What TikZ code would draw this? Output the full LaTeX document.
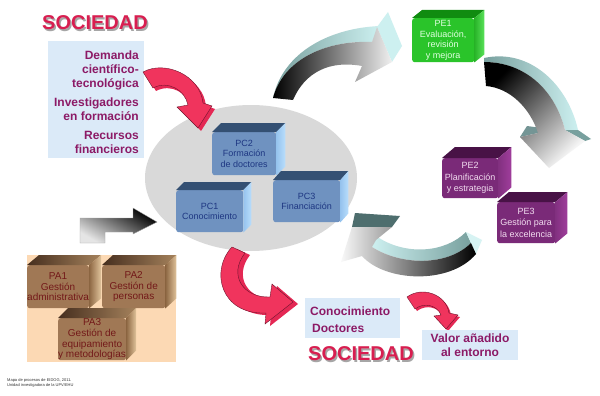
\documentclass[tikz,border=0pt]{standalone}
\usepackage{fontspec}
\setmainfont{Liberation Sans}
\usetikzlibrary{shapes.geometric,calc}
\definecolor{socred}{RGB}{216,30,80}
\definecolor{purtxt}{RGB}{140,26,102}
\definecolor{lblue}{RGB}{219,234,248}
\definecolor{coregray}{RGB}{217,217,217}
\definecolor{pinkA}{RGB}{240,52,93}
\definecolor{pinkB}{RGB}{228,40,84}
\definecolor{pinkD}{RGB}{110,20,45}
\definecolor{peach}{RGB}{252,217,180}
\definecolor{pcfront}{RGB}{111,146,192}
\definecolor{pctopc}{RGB}{52,80,115}
\definecolor{pcsideA}{RGB}{150,195,238}
\definecolor{pcsideB}{RGB}{185,222,252}
\definecolor{pctext}{RGB}{30,55,130}
\definecolor{pgfront}{RGB}{42,196,42}
\definecolor{pgtopc}{RGB}{16,140,16}
\definecolor{pgsideA}{RGB}{40,180,40}
\definecolor{pgsideB}{RGB}{90,226,90}
\definecolor{pgtext}{RGB}{225,255,225}
\definecolor{pefront}{RGB}{122,42,120}
\definecolor{petopc}{RGB}{72,18,70}
\definecolor{pesideA}{RGB}{130,48,128}
\definecolor{pesideB}{RGB}{160,62,156}
\definecolor{petext}{RGB}{242,220,240}
\definecolor{pafront}{RGB}{160,120,85}
\definecolor{patopA}{RGB}{70,46,30}
\definecolor{patopB}{RGB}{165,130,92}
\definecolor{pasideA}{RGB}{140,102,66}
\definecolor{pasideB}{RGB}{225,196,156}
\definecolor{patext}{RGB}{115,25,25}
\definecolor{bandA}{RGB}{120,160,158}
\definecolor{bandB}{RGB}{205,240,240}
\definecolor{slate}{RGB}{78,110,110}
\tikzset{
  pcbox/.style={fill=pcfront,text=pctext,font=\fontsize{9}{10.5}\selectfont},
  pctop/.style={fill=pctopc},
  pcside/.style={left color=pcsideA,right color=pcsideB},
  pgbox/.style={fill=pgfront,text=pgtext,font=\fontsize{9}{10.5}\selectfont},
  pgtop/.style={fill=pgtopc},
  pgside/.style={left color=pgsideA,right color=pgsideB},
  pebox/.style={fill=pefront,text=petext,font=\fontsize{9}{11.5}\selectfont},
  petop/.style={fill=petopc},
  peside/.style={left color=pesideA,right color=pesideB},
  pabox/.style={fill=pafront,text=patext,font=\fontsize{10}{10.8}\selectfont},
  patop/.style={left color=patopA,right color=patopB},
  paside/.style={left color=pasideA,right color=pasideB},
  bluebox/.style={fill=lblue,inner sep=0pt,anchor=north west},
  purtext/.style={text=purtxt,font=\bfseries\fontsize{12}{14}\selectfont,inner sep=0pt},
  soc/.style={font=\bfseries\fontsize{20}{22}\selectfont,inner sep=0pt},
  pinkarrow/.style={fill=pinkA,draw=pinkD,line width=0.4pt},
  pinkshadow/.style={fill=pinkB},
}
\newcommand{\procbox}[9]{%
  \node[anchor=north west,minimum width=#4pt,minimum height=#5pt,inner sep=0pt,
        align=center,rounded corners=2.5pt,#8box] (#1) at (#2,#3) {#9};
  \path[#8top] (#1.north west) -- ++(#6,-#7) -- ($(#1.north east)+(#6,-#7)$) -- (#1.north east) -- cycle;
  \path[#8side] (#1.north east) -- ++(#6,-#7) -- ($(#1.south east)+(#6,-#7)$) -- (#1.south east) -- cycle;
}
\begin{document}
\begin{tikzpicture}[x=1pt,y=-1pt]
\useasboundingbox[fill=white] (0,0) rectangle (600,396);

% SOCIEDAD top
\node[soc,text=black!35] (soctopsh) at (96.5,24.5) {SOCIEDAD};
\node[soc,text=socred] (soctop) at (95,23) {SOCIEDAD};

% input box
\node[bluebox,minimum width=96pt,minimum height=117pt] (inbox) at (48,41) {};
\node[purtext,anchor=north east,align=right] (dem) at (139,51) {Demanda\\científico-\\tecnológica};
\node[purtext,anchor=north east,align=right] (inv) at (139,98) {Investigadores\\en formación};
\node[purtext,anchor=north east,align=right] (rec) at (139,131) {Recursos\\financieros};

% core ellipse
\node[ellipse,fill=coregray,minimum width=212pt,minimum height=146pt,inner sep=0pt] (core) at (251,178) {};

% key processes
\procbox{pc2}{212}{132}{64}{43}{9}{9}{pc}{PC2\\Formación\\de doctores}
\procbox{pc1}{176}{190}{67}{42}{8}{8}{pc}{PC1\\Conocimiento}
\procbox{pc3}{273}{180}{67}{42}{8}{9}{pc}{PC3\\Financiación}

% strategic processes
\procbox{pe1}{412}{18}{62}{44}{10}{8}{pg}{PE1\\Evaluación,\\revisión\\y mejora}
\procbox{pe2}{442}{158}{56}{40}{13}{11}{pe}{PE2\\Planificación\\y estrategia}
\procbox{pe3}{497}{202}{58}{41}{12}{10}{pe}{PE3\\Gestión para\\la excelencia}

% support processes
\node[fill=peach,anchor=north west,minimum width=149pt,minimum height=107pt,inner sep=0pt] (apoyo) at (27,255) {};
\procbox{pa1}{27}{265}{61}{43}{12}{10}{pa}{PA1\\Gestión\\administrativa}
\procbox{pa2}{102}{265}{63}{43}{11}{10}{pa}{PA2\\Gestión de\\personas}
\procbox{pa3}{58}{318}{64}{42}{10}{10}{pa}{PA3\\Gestión de\\equipamiento\\y metodologías}

% pink arrow top-left
\fill[pinkshadow,shift={(3,3)}] (143,72) .. controls (165,60) and (200,75) .. (203,103) -- (212,106) -- (198,128) -- (177,107) -- (188,105) .. controls (185,90) and (168,80) .. (153,88) -- cycle;
\path[pinkarrow] (143,72) .. controls (165,60) and (200,75) .. (203,103) -- (212,106) -- (198,128) -- (177,107) -- (188,105) .. controls (185,90) and (168,80) .. (153,88) -- cycle;

% pink arrow bottom
\fill[pinkshadow,shift={(5,2)}] (232,247) .. controls (210,270) and (220,315) .. (266,313) -- (265,324) -- (293,302) -- (272,284) -- (270,297) .. controls (243,298) and (228,275) .. (245,253) -- cycle;
\path[pinkarrow] (232,247) .. controls (210,270) and (220,315) .. (266,313) -- (265,324) -- (293,302) -- (272,284) -- (270,297) .. controls (243,298) and (228,275) .. (245,253) -- cycle;

% pink arrow small
\fill[pinkshadow,shift={(2,2)}] (407,297) .. controls (422,286) and (446,294) .. (449,313) -- (458,315) -- (446,329) -- (434,316) -- (441,315) .. controls (437,305) and (424,302) .. (415,309) -- cycle;
\path[pinkarrow] (407,297) .. controls (422,286) and (446,294) .. (449,313) -- (458,315) -- (446,329) -- (434,316) -- (441,315) .. controls (437,305) and (424,302) .. (415,309) -- cycle;

% gray arrow top
\shade[left color=bandA,right color=bandB] (273,98) .. controls (283,52) and (330,28) .. (380,26) -- (372,42) .. controls (325,40) and (283,60) .. (273,98) -- cycle;
\fill[bandB] (377,27) -- (388,12) -- (402,46) -- (392,62) -- cycle;
\shade[left color=black,right color=gray!12] (273,98) .. controls (283,60) and (325,40) .. (372,42) -- (377,27) -- (392,62) -- (355,82) -- (362,66) .. controls (330,60) and (305,72) .. (293,100) -- cycle;

% gray arrow right
\shade[left color=bandA,right color=bandB] (484,58) .. controls (530,48) and (568,85) .. (578,130) -- (565,130) .. controls (555,90) and (525,62) .. (484,62) -- cycle;
\fill[bandA] (565,130) -- (578,130) -- (591,139) -- (585,141) -- cycle;
\fill[slate!70!bandB] (520,137) -- (527,126) -- (541,128) -- (538,133) -- cycle;
\shade[left color=black,right color=gray!8,shading angle=45] (484,62) .. controls (525,62) and (555,90) .. (565,130) -- (585,141) -- (549,168) -- (520,137) -- (538,133) .. controls (530,108) and (510,88) .. (486,86) -- cycle;

% gray arrow bottom
\shade[left color=bandB,right color=bandA] (376,236) .. controls (405,256) and (445,253) .. (466,232) -- (471,243) .. controls (448,266) and (402,266) .. (372,247) -- cycle;
\fill[bandB!80!white] (466,232) -- (482,240) -- (476,254) -- (471,243) -- cycle;
\fill[slate] (355,213) -- (400,216) -- (392,227) -- (352,227) -- cycle;
\shade[left color=gray!5,right color=black] (352,227) -- (392,227) -- (376,240) -- (372,247) .. controls (402,266) and (448,266) .. (471,243) -- (476,254) .. controls (450,285) and (385,282) .. (362,256) -- (341,262) -- cycle;

% bent arrow left
\shade[left color=black!10,right color=black,shading angle=150,draw=black!35,line width=0.3pt] (80,243) -- (80,218) -- (133,218) -- (133,208) -- (157,222) -- (133,234) -- (133,232) -- (105,232) -- (105,243) -- cycle;

% outputs
\node[bluebox,minimum width=95pt,minimum height=40pt] (outbox) at (305,298) {};
\node[purtext,anchor=base west] (conoc) at (310,315) {Conocimiento};
\node[purtext,anchor=base west] (doct) at (312,332) {Doctores};
\node[soc,text=black!35] (socbotsh) at (362.5,355.5) {SOCIEDAD};
\node[soc,text=socred] (socbot) at (361,354) {SOCIEDAD};
\node[bluebox,minimum width=96pt,minimum height=30pt] (valbox) at (422,330) {};
\node[purtext,align=center] (valor) at (470,345) {Valor añadido\\al entorno};

% footer
\node[anchor=north west,font=\fontsize{4}{5}\selectfont,align=left,inner sep=0pt,text=black!80] (foot) at (7,378) {Mapa de procesos de EIDOG, 2011.\\Unidad investigadora de la UPV/EHU};
\end{tikzpicture}
\end{document}
